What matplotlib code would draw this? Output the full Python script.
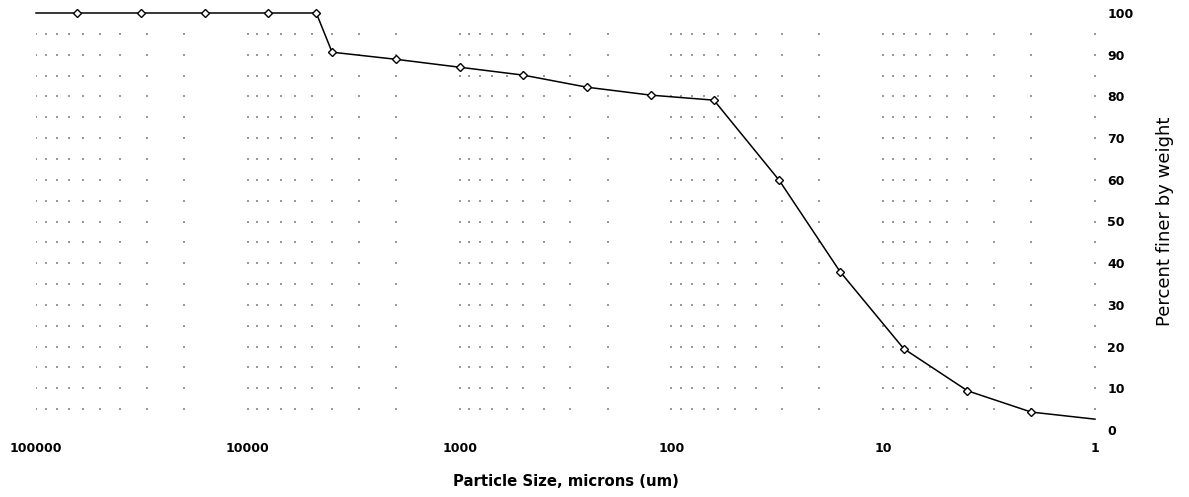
import numpy as np
import matplotlib
matplotlib.use('Agg')
import matplotlib.pyplot as plt
from matplotlib.ticker import FixedLocator, NullLocator

# Sieve / hydrometer results
sizes = [100000, 64000, 32000, 16000, 8000, 4750, 4000, 2000, 1000, 500,
         250, 125, 63, 31, 16, 8, 4, 2, 1]
pct_finer = [100, 100, 100, 100, 100, 100, 90.6, 88.9, 87.0, 85.1,
             82.2, 80.3, 79.1, 59.9, 38.0, 19.5, 9.4, 4.3, 2.6]

x_ticks = [100000, 10000, 1000, 100, 10, 1]
x_tick_labels = ['100000', '10000', '1000', '100', '10', '1']
y_ticks = list(range(0, 101, 10))

plt.rcParams['font.family'] = ['DejaVu Sans']

fig = plt.figure(figsize=(11.89, 4.97), dpi=100)
ax = fig.add_axes([36 / 1189, 1 - 430 / 497, (1095 - 36) / 1189, (430 - 13) / 497])

# dotted grid: a dot at each minor-decade / 5 % intersection
grid_x = [m * 10 ** d for d in range(0, 5) for m in range(1, 10)] + [100000]
grid_y = np.arange(5, 100, 5)
gx, gy = np.meshgrid(grid_x, grid_y)
ax.scatter(gx.ravel(), gy.ravel(), s=1.1, marker='s', color='#9a9a9a',
           linewidths=0, zorder=1)

# grading curve, first and last points without markers
ax.plot(sizes, pct_finer, color='black', lw=1.1, marker='D', ms=4.3,
        mfc='white', mec='black', mew=1.0, markevery=list(range(1, len(sizes) - 1)),
        clip_on=False, zorder=3)

ax.set_xscale('log')
ax.set_xlim(100000, 1)
ax.set_ylim(0, 100)
ax.xaxis.set_major_locator(FixedLocator(x_ticks))
ax.xaxis.set_minor_locator(NullLocator())
ax.set_xticklabels(x_tick_labels)
ax.yaxis.tick_right()
ax.yaxis.set_label_position('right')
ax.set_yticks(y_ticks)
ax.tick_params(axis='both', length=0, labelsize=9)
ax.tick_params(axis='x', pad=9)
ax.tick_params(axis='y', pad=9)
for lbl in ax.get_xticklabels() + ax.get_yticklabels():
    lbl.set_fontweight('bold')
for s in ax.spines.values():
    s.set_visible(False)

ax.set_xlabel('Particle Size, microns (um)', fontsize=10.7, fontweight='bold', labelpad=13)
ax.set_ylabel('Percent finer by weight', fontsize=13, labelpad=16)

fig.savefig('out.png', dpi=100, facecolor='white')
